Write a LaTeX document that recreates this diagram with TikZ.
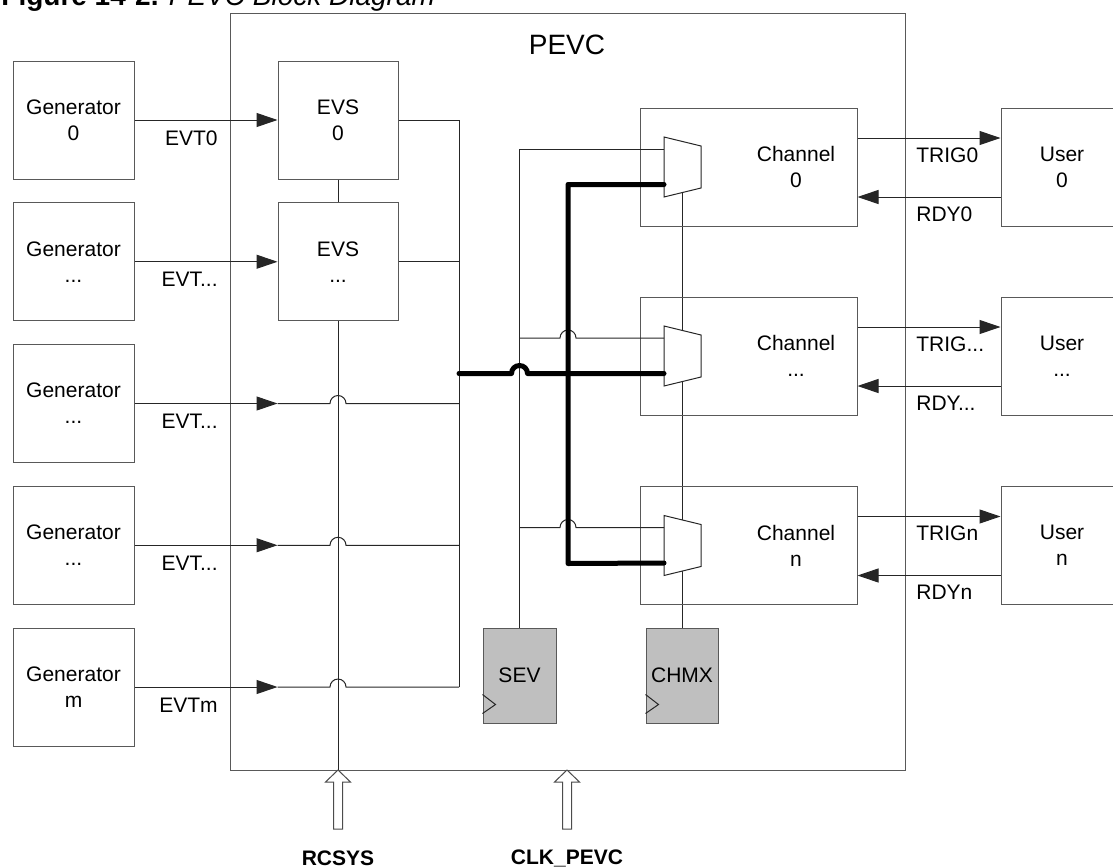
\documentclass[tikz,border=0pt]{standalone}
\usepackage{fontspec}
\setmainfont{Liberation Sans}
\usetikzlibrary{arrows.meta, positioning, calc}
\newcommand{\ddd}{...}

\begin{document}
\begin{tikzpicture}[x=0.5pt, y=-0.5pt,
  box/.style={rectangle, draw=black!65, line width=0.5pt, inner sep=0pt,
    font=\fontsize{10.5}{13}\selectfont, align=center},
  genbox/.style={box, minimum width=60.5pt, minimum height=59pt},
  evsbox/.style={box, minimum width=60pt, minimum height=59pt},
  chbox/.style={box, minimum width=108.5pt, minimum height=59pt},
  regbox/.style={box, fill=black!25, minimum width=36.5pt, minimum height=47.5pt},
  txt/.style={font=\fontsize{10.5}{13}\selectfont, inner sep=0pt, align=center},
  wire/.style={draw=black!85, line width=0.5pt},
  sig/.style={wire, -{Triangle[length=10.5pt, width=7pt]}},
  busline/.style={draw=black, line width=2.5pt, line cap=round, line join=round},
  inarrow/.style={draw=black!70, line width=0.5pt, fill=white}]
  \useasboundingbox (0,0) rectangle (1113,867);

  % caption and outer block
  \node[anchor=base west, inner sep=0pt, font=\fontsize{14}{16}\selectfont] (fig) at (1,5.5)
    {\textbf{Figure 14-2.} \textit{PEVC Block Diagram}};
  \node[box, minimum width=337.5pt, minimum height=378.5pt] (pevc) at (567.5,391.5) {};
  \node[txt, font=\fontsize{14}{16}\selectfont] (pevctitle) at (567,45) {PEVC};

  % generators and event selectors
  \foreach \i/\gy/\lab/\evt in {0/120/0/EVT0, 1/261.75/\ddd/EVT\ddd, 2/403.5/\ddd/EVT\ddd,
      3/545.25/\ddd/EVT\ddd, 4/687/m/EVTm} {
    \node[genbox] (gen\i) at (73.5,\gy) {Generator\\\lab};
    \node[txt, anchor=east] (evt\i) at (218,\gy+18) {\evt};
    \coordinate (bus\i) at (459,\gy);
  }
  \node[evsbox] (evs0) at (338,120) {EVS\\0};
  \node[evsbox] (evs1) at (338,261.75) {EVS\\\ddd};

  \draw[wire] (evs0.south) -- (evs1.north);
  \draw[wire] (evs1.south) -- (evs1.south |- pevc.south);
  \draw[sig] (gen0.east) -- (evs0.west);
  \draw[sig] (gen1.east) -- (evs1.west);
  \draw[wire] (evs0.east) -| (bus4);
  \draw[wire] (evs1.east) -- (bus1);
  \foreach \i in {2,3,4} {
    \coordinate (tip\i) at (evs0.west |- gen\i.east);
    \draw[sig] (gen\i.east) -- (tip\i);
    \draw[wire] (tip\i) -- ([xshift=-4pt]tip\i -| evs0.south)
      arc[start angle=180, end angle=0, radius=4pt] -- (bus\i);
  }

  % sync and channel-mux registers
  \node[regbox] (sev) at (519.5,675.5) {SEV};
  \node[regbox, minimum width=36pt] (chmx) at (682,675.5) {CHMX};
  \foreach \r in {sev, chmx}
    \draw[wire] ([yshift=14.5pt]\r.south west) -- ([xshift=6.5pt, yshift=9.5pt]\r.south west)
      -- ([yshift=5pt]\r.south west);
  \coordinate (sel0) at (682,192.6);
  \draw[wire] (sel0) -- (chmx.north);

  % channels and users
  \foreach \i/\cy/\lab/\trig/\rdy in {0/167/0/TRIG0/RDY0, 1/356/\ddd/TRIG\ddd/RDY\ddd,
      2/545.5/n/TRIGn/RDYn} {
    \node[chbox] (ch\i) at (748.5,\cy) {};
    \node[txt] (chlab\i) at (796,\cy) {Channel\\\lab};
    \node[chbox, minimum width=61pt] (usr\i) at (1062,\cy) {User\\\lab};
    \draw[wire, fill=white] (664,\cy-30) -- (701,\cy-21) -- (701,\cy+21) -- (664,\cy+30) -- cycle;
    \coordinate (muxa\i) at (664,\cy-18);
    \coordinate (muxb\i) at (664,\cy+17.5);
    \coordinate (trigA\i) at ([yshift=14.5pt]ch\i.east);
    \coordinate (trigB\i) at (trigA\i -| usr\i.west);
    \coordinate (rdyA\i) at ([yshift=-15pt]usr\i.west);
    \coordinate (rdyB\i) at (rdyA\i -| ch\i.east);
    \draw[sig] (trigA\i) -- (trigB\i);
    \draw[sig] (rdyA\i) -- (rdyB\i);
    \node[txt, anchor=west] (trig\i) at (916,\cy-12) {\trig};
    \node[txt, anchor=west] (rdy\i) at (916,\cy+47) {\rdy};
  }

  % select lines into the muxes
  \draw[wire] (muxa0) -| (sev.north);
  \foreach \i in {1,2}
    \draw[wire] (muxa\i) -- ([xshift=4pt]muxa\i -| 568,0)
      arc[start angle=0, end angle=180, radius=4pt] -- (muxa\i -| sev.north);

  % event bus
  \coordinate (busa) at (459,373.5);
  \coordinate (busc) at (568,563.5);
  \draw[busline] (busa) -- ([xshift=-4pt]busa -| sev.north)
    arc[start angle=180, end angle=0, radius=4pt] -- (muxb1);
  \draw[busline] (muxb0) -| (busc) -- (muxb2);

  % clock and reset inputs
  \foreach \ax/\alab/\aname in {338/RCSYS/rcsys, 567/CLK\_PEVC/clk} {
    \draw[inarrow] (\ax-4.5,829) -- (\ax-4.5,782) -- (\ax-12.5,782) -- (\ax,770)
      -- (\ax+12.5,782) -- (\ax+4.5,782) -- (\ax+4.5,829) -- cycle;
    \node[txt, font=\fontsize{10.5}{13}\selectfont\bfseries] (\aname) at (\ax,858) {\alab};
  }
\end{tikzpicture}
\end{document}
